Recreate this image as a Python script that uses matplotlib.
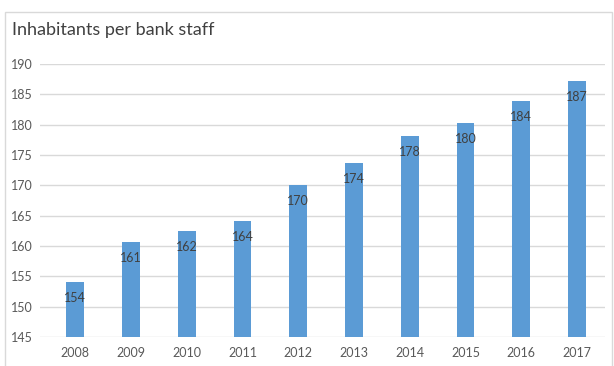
import matplotlib.pyplot as plt
from matplotlib.patches import Rectangle

plt.rcParams["font.family"] = ["Lato", "DejaVu Sans"]

years = ["2008", "2009", "2010", "2011", "2012", "2013", "2014", "2015", "2016", "2017"]
inhabitants = [154.1, 160.6, 162.4, 164.1, 170.0, 173.7, 178.1, 180.3, 183.9, 187.2]
y_ticks = [145, 150, 155, 160, 165, 170, 175, 180, 185, 190]


def main() -> None:
    fig = plt.figure(figsize=(6.14, 3.66), dpi=100)
    fig.patches.append(Rectangle((5 / 614, -0.01), 607 / 614, 1 - 12 / 366 + 0.01,
                                 transform=fig.transFigure, fill=False,
                                 edgecolor="#d9d9d9", linewidth=1))
    ax = fig.add_axes([40 / 614, 1 - 337 / 366, 565 / 614, (337 - 64) / 366])
    x = range(len(years))
    ax.bar(x, inhabitants, width=0.32, color="#5b9bd5", zorder=3)
    for i, v in enumerate(inhabitants):
        ax.annotate(f"{round(v)}", (i, v), xytext=(0, -16), textcoords="offset pixels",
                    ha="center", va="center", fontsize=9, color="#404040", zorder=4)
    ax.set_xlim(-0.63, len(years) - 0.5)
    ax.set_ylim(145, 190)
    ax.set_yticks(y_ticks)
    ax.set_xticks(list(x))
    ax.set_xticklabels(years)
    ax.yaxis.grid(True, color="#d9d9d9", linewidth=1, zorder=0)
    for s in ax.spines.values():
        s.set_visible(False)
    ax.tick_params(length=0, labelsize=9, labelcolor="#595959")
    ax.tick_params(axis="y", pad=5)
    ax.tick_params(axis="x", pad=7)
    fig.text(12 / 614, 1 - 30 / 366, "Inhabitants per bank staff", fontsize=13,
             color="#404040", va="center", ha="left")
    fig.savefig("out.png", dpi=100)


if __name__ == "__main__":
    main()
